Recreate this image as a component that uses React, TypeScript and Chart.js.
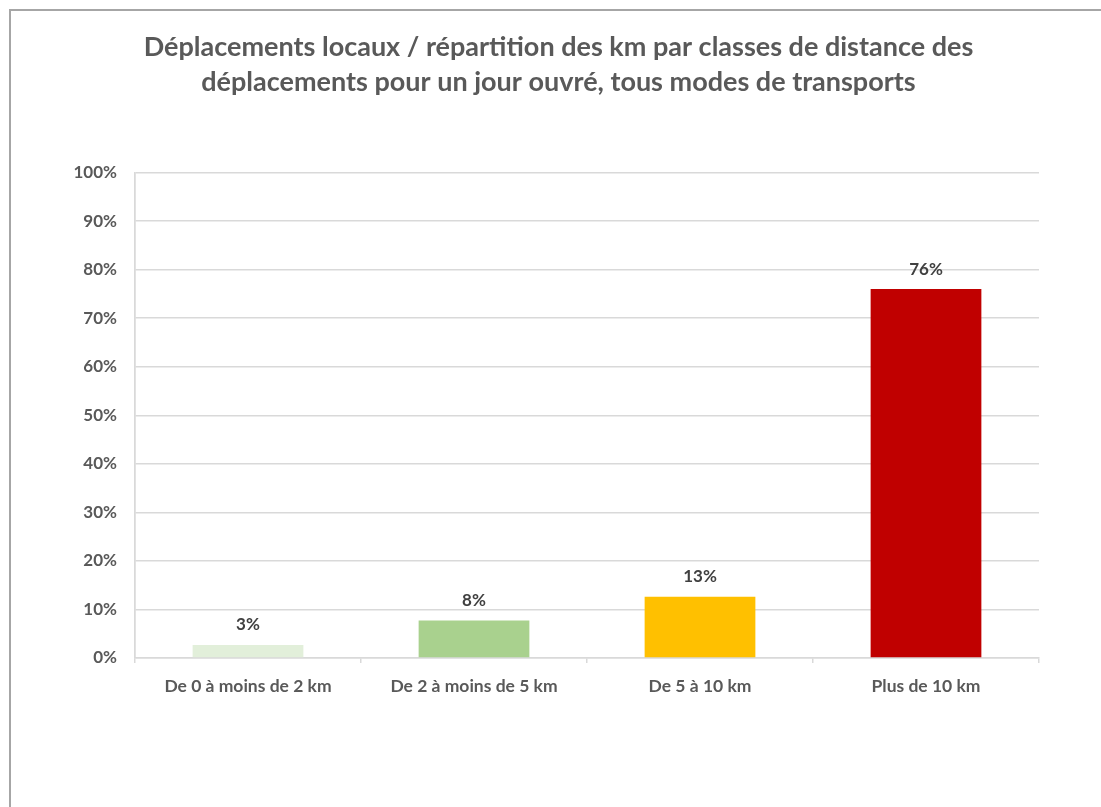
import React, { useEffect, useRef } from "react";
import { Chart, registerables } from "chart.js";

Chart.register(...registerables);

const categories = [
  "De 0 à moins de 2 km",
  "De 2 à moins de 5 km",
  "De 5 à 10 km",
  "Plus de 10 km",
];
const shares = [2.7, 7.7, 12.6, 76.0];
const barColors = ["#E2EFDA", "#A9D18E", "#FFC000", "#C00000"];
const titleLines = [
  "Déplacements locaux / répartition des km par classes de distance des",
  "déplacements pour un jour ouvré, tous modes de transports",
];
const yTicks = { min: 0, max: 100, step: 10 };

const FONT = "Lato, 'Open Sans', sans-serif";

const dataLabelPlugin = {
  id: "dataLabels",
  afterDatasetsDraw(chart: any) {
    const ctx = chart.ctx;
    const meta = chart.getDatasetMeta(0);
    ctx.save();
    ctx.font = `bold 17px ${FONT}`;
    ctx.fillStyle = "#404040";
    ctx.textAlign = "center";
    ctx.textBaseline = "middle";
    meta.data.forEach((bar: any, i: number) => {
      const v = chart.data.datasets[0].data[i];
      ctx.fillText(Math.round(v) + "%", bar.x, bar.y - 20);
    });
    ctx.restore();
  },
};

export default function App() {
  const ref = useRef<HTMLCanvasElement | null>(null);
  useEffect(() => {
    if (!ref.current) return;
    const n = categories.length;
    const chart = new Chart(ref.current, {
      type: "bar",
      data: {
        labels: categories,
        datasets: [
          {
            data: shares,
            backgroundColor: barColors,
            borderWidth: 0,
            barPercentage: 0.49,
            categoryPercentage: 1,
          },
        ],
      },
      options: {
        responsive: false,
        animation: false,
        layout: { padding: { top: 12, left: 16, right: 0, bottom: 97 } },
        plugins: {
          legend: { display: false },
          tooltip: { enabled: false },
          title: {
            display: true,
            text: titleLines,
            color: "#595959",
            font: { family: FONT, size: 27, weight: "bold", lineHeight: "35px" },
            padding: { top: 17.5, bottom: 73 },
          },
        },
        scales: {
          x: {
            grid: {
              offset: true,
              drawOnChartArea: true,
              drawTicks: true,
              tickLength: 5,
              color: (c: any) =>
                c.index === 0 || c.index === n ? "#D9D9D9" : "rgba(0,0,0,0)",
              tickColor: "#D9D9D9",
              lineWidth: 1.5,
            },
            border: { display: true, color: "#D9D9D9", width: 1.5 },
            ticks: {
              color: "#595959",
              font: { family: FONT, size: 17.5, weight: "bold" },
              padding: 13,
              maxRotation: 0,
            },
          },
          y: {
            min: yTicks.min,
            max: yTicks.max,
            afterFit: (s: any) => {
              s.width = 119;
            },
            grid: { color: "#D9D9D9", drawTicks: false, lineWidth: 1.5 },
            border: { display: true, color: "#D9D9D9", width: 1.5 },
            ticks: {
              stepSize: yTicks.step,
              color: "#595959",
              padding: 18,
              font: { family: FONT, size: 17, weight: "bold" },
              callback: (v: any) => v + "%",
            },
          },
          yRight: {
            position: "right",
            display: true,
            min: yTicks.min,
            max: yTicks.max,
            afterFit: (s: any) => {
              s.width = 62;
            },
            grid: { display: false, drawTicks: false },
            border: { display: false },
            ticks: { display: false },
          },
        },
      },
      plugins: [dataLabelPlugin],
    });
    return () => chart.destroy();
  }, []);

  return (
    <div style={{ position: "absolute", left: 0, top: 0, width: 1101, height: 807, background: "#fff", overflow: "hidden" }}>
      <div
        style={{
          position: "absolute",
          left: 9,
          top: 9,
          width: 1092,
          height: 798,
          borderLeft: "2px solid #A6A6A6",
          borderTop: "2px solid #A6A6A6",
          boxSizing: "border-box",
        }}
      />
      <canvas ref={ref} width={1101} height={807} style={{ position: "absolute", left: 0, top: 0 }} />
    </div>
  );
}
